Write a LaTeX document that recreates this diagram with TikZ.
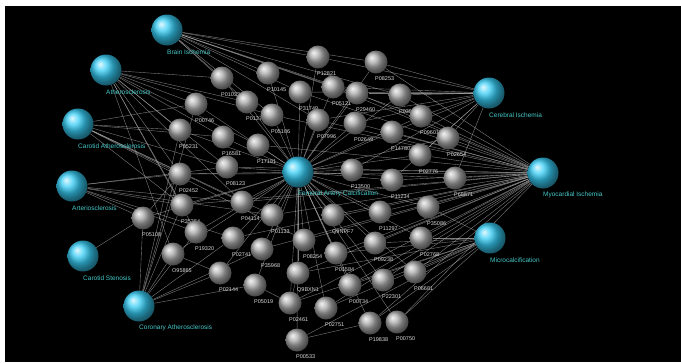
\documentclass[tikz,border=0pt]{standalone}
\usepackage{fontspec}
\setmainfont{Liberation Sans}
\usetikzlibrary{shapes,positioning}
\definecolor{dzblue}{RGB}{55,205,245}
\definecolor{dzlabel}{RGB}{70,200,200}
\definecolor{protgray}{RGB}{170,170,170}
\pgfdeclarelayer{back}
\pgfdeclarelayer{links}
\pgfsetlayers{back,links,main}
\tikzset{
  disease/.style={circle, shading=ball, ball color=dzblue, minimum size=31pt, inner sep=0pt},
  protein/.style={circle, shading=ball, ball color=protgray, minimum size=23pt, inner sep=0pt},
  diseasetext/.style={text=dzlabel, font=\fontsize{6.5}{7}\selectfont, anchor=west, inner sep=0pt},
  proteintext/.style={text=white!85!black, font=\fontsize{5.5}{6}\selectfont, anchor=west, inner sep=0pt},
  link/.style={draw=white!80!black, line width=0.4pt, opacity=0.6}
}
\newcommand{\diseasenode}[3] {\node at (#1) (#2) [disease] {}; \node at ([yshift=-22pt]#2.center) (#2l) [diseasetext] {#3};}
\newcommand{\proteinnode}[2] {\node at (#1) (#2) [protein] {}; \node at ([xshift=-1pt,yshift=-17pt]#2.center) (#2l) [proteintext] {#2};}
\newcommand{\links}[2] {\foreach \p in {#2} \draw [link] (#1) -- (\p);}

\begin{document}
\begin{tikzpicture}[x=1pt, y=-1pt]

\useasboundingbox (0,0) rectangle (681,362);
\begin{pgfonlayer}{back}
\fill [black] (5,6) rectangle (681,362);
\end{pgfonlayer}

% diseases
\diseasenode {167,30}{bi}{Brain Ischemia};
\diseasenode {106,70}{ath}{Atherosclerosis};
\diseasenode {78,124}{cath}{Carotid Atherosclerosis};
\diseasenode {72,186}{art}{Arteriosclerosis};
\diseasenode {83,256}{cs}{Carotid Stenosis};
\diseasenode {139,306}{cor}{Coronary Atherosclerosis};
\diseasenode {298,172}{cen}{Femoral Artery Calcification};
\diseasenode {489,93}{ci}{Cerebral Ischemia};
\diseasenode {543,173}{mi}{Myocardial Ischemia};
\diseasenode {490,238}{mc}{Microcalcification};

% proteins
\proteinnode {318,57}{P12821};
\proteinnode {376,62}{P08253};
\proteinnode {222,78}{P01033};
\proteinnode {268,73}{P10145};
\proteinnode {300,92}{P31749};
\proteinnode {333,87}{P05121};
\proteinnode {357,93}{P29460};
\proteinnode {400,95}{P03956};
\proteinnode {196,104}{P00746};
\proteinnode {247,102}{P01375};
\proteinnode {272,115}{P05106};
\proteinnode {318,120}{P07996};
\proteinnode {355,123}{P02649};
\proteinnode {421,116}{P09601};
\proteinnode {392,132}{P14780};
\proteinnode {448,138}{P02654};
\proteinnode {180,130}{P05231};
\proteinnode {223,137}{P16581};
\proteinnode {258,145}{P17181};
\proteinnode {227,167}{P08123};
\proteinnode {180,174}{P02452};
\proteinnode {352,170}{P13500};
\proteinnode {420,155}{P02776};
\proteinnode {392,180}{P11234};
\proteinnode {455,178}{P68871};
\proteinnode {182,205}{P35354};
\proteinnode {242,202}{P04114};
\proteinnode {143,218}{P05108};
\proteinnode {272,215}{P01133};
\proteinnode {333,215}{Q9NPF7};
\proteinnode {380,212}{P11297};
\proteinnode {428,207}{P35086};
\proteinnode {196,232}{P19320};
\proteinnode {233,238}{P02741};
\proteinnode {262,249}{P35968};
\proteinnode {304,240}{P08254};
\proteinnode {375,243}{P09238};
\proteinnode {421,238}{P02768};
\proteinnode {173,254}{O95865};
\proteinnode {220,273}{P02144};
\proteinnode {336,253}{P01584};
\proteinnode {298,273}{Q9BXN1};
\proteinnode {350,285}{P00734};
\proteinnode {383,280}{P22301};
\proteinnode {415,272}{P06681};
\proteinnode {255,285}{P05019};
\proteinnode {290,303}{P02461};
\proteinnode {326,308}{P02751};
\proteinnode {370,323}{P19838};
\proteinnode {397,322}{P00750};
\proteinnode {297,340}{P00533};

% associations
\begin{pgfonlayer}{links}
\links{bi}{P01033, P10145, P12821, P31749, P05121, P08253, P29460, P03956, P01375, P05106, P09601, P07996};
\links{ath}{P01033, P00746, P01375, P05106, P05231, P16581, P17181, P08123, P02452, P35354, P04114, P19320, O95865};
\links{cath}{P05231, P16581, P08123, P02452, P35354, P04114, P01133, P08254, P00746};
\links{art}{P02452, P35354, P04114, P05108, P01133, P08123, P19320, P02741};
\links{cs}{P05108};
\links{cor}{O95865, P19320, P35354, P02452, P02741, P02144, P05019, P35968, P05231, P00746, P05108};
\links{ci}{P08253, P12821, P29460, P03956, P05121, P02649, P09601, P14780, P02654, P02776, P13500, P68871, P31749, P07996, P11234};
\links{mi}{P08253, P03956, P09601, P02654, P02776, P68871, P11234, P13500, P02649, P14780, P35086, P11297, P02768, P06681, P22301, P09238, P00734, P00750, P19838, P02751, P01584, P08254, Q9NPF7, P07996, P29460, P05121, P31749, P05106, P01133, P04114, P35354, P02452, P08123, P17181, P35968, P02741, P02461, Q9BXN1};
\links{mc}{P02768, P06681, P00750, P19838, P22301, P00734, P09238, P35086, P02751, P01584, P02461, P00533, Q9BXN1};
\links{cen}{P12821, P08253, P01033, P10145, P31749, P05121, P29460, P03956, P00746, P01375, P05106, P07996, P02649, P09601, P14780, P02654, P05231, P16581, P17181, P08123, P02452, P13500, P02776, P11234, P68871, P35354, P04114, P05108, P01133, Q9NPF7, P11297, P35086, P19320, P02741, P35968, P08254, P09238, P02768, O95865, P02144, P01584, Q9BXN1, P00734, P22301, P06681, P05019, P02461, P02751, P19838, P00750, P00533};
\draw [link] (P00533) -- (P19838);
\draw [link] (P02461) -- (Q9BXN1);
\draw [link] (P05019) -- (P02461);
\draw [link] (P02144) -- (O95865);
\draw [link] (P05108) -- (P02452);
\end{pgfonlayer}

\end{tikzpicture}
\end{document}
